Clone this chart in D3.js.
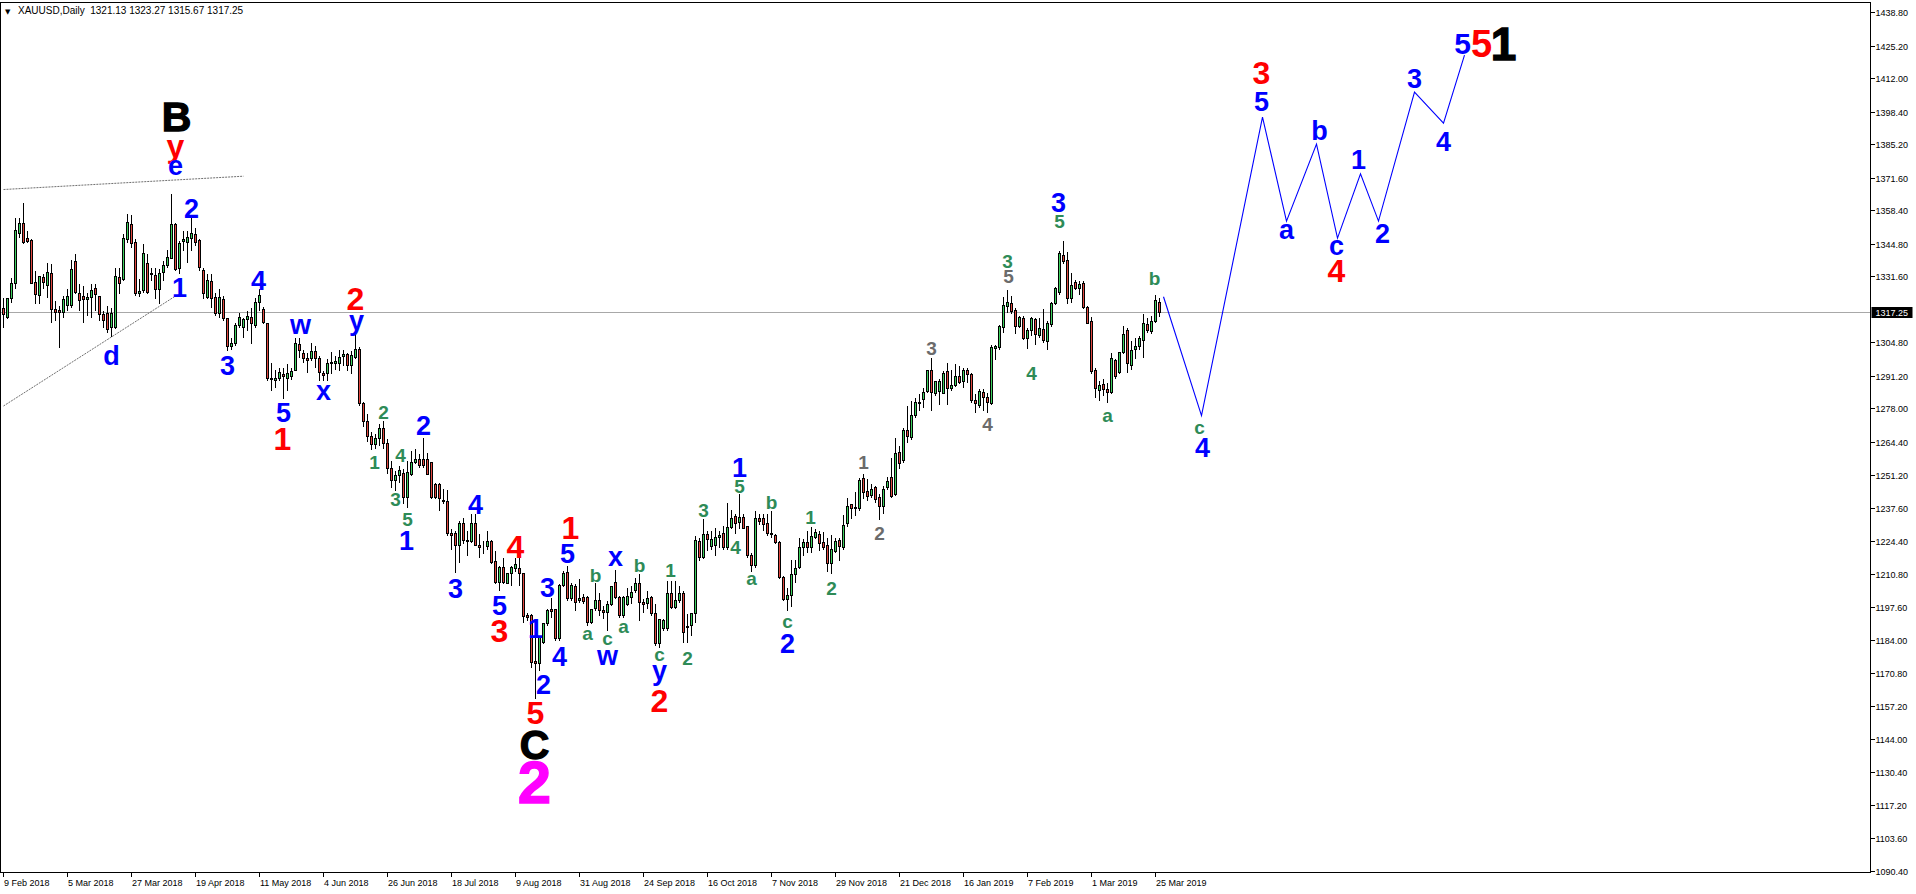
<!DOCTYPE html>
<html><head><meta charset="utf-8">
<script src="https://cdn.jsdelivr.net/npm/d3@7"></script>
<style>
html,body{margin:0;padding:0;background:#fff;overflow:hidden;}
svg{display:block;}
</style></head><body>
<svg id="c" width="1916" height="894"></svg>
<script>
// ---------------- DATA ----------------
const symbolTitle = "XAUUSD,Daily";
const lastOHLC = [1321.13, 1323.27, 1315.67, 1317.25];
const currentPrice = 1317.25;

// daily candles [open, high, low, close], starting 9 Feb 2018
const candles = [
[1318.6,1323.3,1311.2,1316.3],[1315.2,1323.3,1314.5,1322.7],[1322.7,1331.4,1321.3,1328.7],[1328.7,1355.8,1327.0,1350.4],
[1349.0,1355.8,1347.7,1353.1],[1353.1,1361.9,1345.0,1345.6],[1347.0,1350.4,1345.6,1346.0],[1346.3,1347.0,1328.7,1329.0],
[1329.4,1334.1,1320.6,1324.4],[1324.0,1332.0,1320.6,1331.7],[1331.2,1333.0,1327.0,1329.4],[1328.1,1337.5,1323.3,1333.5],
[1332.8,1336.9,1313.2,1318.2],[1318.2,1322.0,1314.0,1317.3],[1317.9,1320.0,1303.0,1317.0],[1317.3,1324.0,1315.0,1322.2],
[1320.0,1327.0,1318.0,1323.6],[1320.0,1338.5,1319.3,1334.4],[1337.8,1341.0,1324.7,1325.4],[1325.0,1328.7,1318.0,1322.0],
[1323.6,1328.0,1313.0,1322.4],[1322.4,1325.4,1316.0,1323.3],[1323.3,1328.7,1315.2,1326.0],[1326.7,1329.0,1318.0,1324.4],
[1323.6,1324.0,1313.9,1316.3],[1316.3,1318.0,1311.2,1313.9],[1316.8,1320.0,1309.1,1310.1],[1311.2,1319.3,1307.5,1316.6],
[1310.9,1335.5,1310.5,1331.7],[1331.2,1335.5,1324.7,1328.7],[1330.4,1349.0,1330.0,1347.0],[1346.8,1357.1,1345.6,1353.7],
[1353.0,1357.0,1343.6,1345.0],[1345.6,1347.0,1324.0,1324.7],[1324.7,1331.0,1323.5,1325.6],[1326.0,1345.0,1325.4,1340.9],
[1337.2,1341.0,1324.7,1325.4],[1333.0,1335.5,1330.0,1332.5],[1332.0,1335.5,1322.9,1326.3],[1326.3,1334.8,1320.6,1333.0],
[1333.5,1338.2,1330.0,1336.2],[1336.2,1342.5,1335.5,1339.3],[1339.1,1365.2,1338.9,1353.0],[1353.0,1353.7,1334.1,1334.4],
[1335.0,1346.3,1333.0,1345.0],[1346.0,1350.4,1342.3,1346.8],[1345.6,1350.4,1337.5,1347.7],[1347.0,1355.8,1342.3,1349.3],
[1348.6,1351.7,1344.3,1345.6],[1346.3,1347.0,1334.1,1335.5],[1334.1,1335.5,1322.7,1324.7],[1323.3,1332.8,1322.7,1330.0],
[1329.7,1332.8,1319.3,1322.7],[1323.3,1325.4,1315.9,1316.6],[1316.6,1326.7,1315.2,1323.3],[1322.4,1324.0,1313.9,1314.5],
[1314.5,1315.2,1301.7,1303.5],[1303.5,1307.1,1302.3,1304.7],[1304.5,1313.2,1303.8,1311.8],[1311.8,1317.3,1311.2,1315.2],
[1311.2,1315.2,1307.1,1314.1],[1314.1,1318.0,1309.8,1315.5],[1315.2,1319.3,1304.4,1312.5],[1311.8,1323.3,1311.2,1321.3],
[1321.0,1326.7,1318.0,1324.0],[1318.2,1319.6,1312.5,1312.9],[1312.8,1313.2,1289.5,1290.2],[1290.2,1297.0,1285.5,1289.8],
[1289.5,1294.2,1286.8,1290.5],[1290.2,1294.9,1289.5,1292.9],[1291.8,1294.9,1282.1,1291.1],[1290.5,1296.3,1285.5,1292.3],
[1291.0,1295.0,1290.0,1293.0],[1293.8,1307.1,1293.6,1304.4],[1304.0,1307.1,1299.0,1301.7],[1300.6,1302.3,1297.0,1298.3],
[1298.3,1301.0,1292.9,1297.7],[1298.3,1305.0,1297.6,1301.3],[1301.3,1303.8,1294.9,1298.3],[1298.6,1299.6,1289.5,1292.9],
[1292.4,1293.5,1289.5,1291.5],[1292.2,1298.3,1289.5,1296.3],[1296.3,1301.4,1292.2,1297.0],[1296.3,1299.5,1294.2,1297.3],
[1296.3,1302.3,1293.6,1299.0],[1299.3,1302.3,1295.6,1300.0],[1300.0,1301.0,1293.6,1295.6],[1295.6,1301.7,1292.2,1299.6],
[1299.0,1309.8,1298.3,1302.0],[1302.1,1303.3,1279.4,1280.1],[1280.1,1281.0,1271.0,1273.0],[1273.0,1276.0,1265.0,1267.0],
[1267.0,1269.0,1261.5,1263.5],[1263.5,1268.0,1262.0,1266.0],[1266.0,1272.0,1263.0,1270.0],[1270.0,1273.5,1262.0,1264.0],
[1264.0,1266.0,1252.0,1254.0],[1254.0,1257.0,1246.0,1249.0],[1249.0,1253.0,1245.0,1251.0],[1251.0,1255.0,1248.0,1253.0],
[1251.9,1253.7,1239.5,1242.2],[1242.2,1257.1,1238.1,1252.3],[1251.6,1261.1,1251.0,1256.4],[1256.4,1261.8,1255.7,1257.7],
[1257.5,1259.8,1254.4,1255.0],[1257.5,1266.5,1254.4,1255.0],[1257.3,1260.4,1251.6,1251.6],[1256.1,1256.4,1241.5,1242.2],
[1247.3,1248.3,1241.5,1242.2],[1247.2,1248.3,1236.8,1241.5],[1240.8,1245.6,1239.5,1240.6],[1240.4,1245.2,1226.7,1227.6],
[1227.3,1229.4,1221.2,1226.7],[1227.3,1228.7,1211.8,1222.6],[1222.6,1232.7,1215.9,1231.6],[1231.6,1234.1,1223.3,1224.6],
[1224.6,1228.7,1218.5,1224.4],[1224.4,1235.4,1224.0,1231.7],[1231.6,1235.4,1222.6,1222.6],[1222.6,1227.3,1217.9,1222.0],
[1221.9,1224.6,1219.2,1221.8],[1222.2,1228.7,1221.2,1224.4],[1224.4,1225.0,1215.2,1215.9],[1216.1,1220.6,1207.1,1207.7],
[1207.7,1214.5,1204.4,1213.8],[1213.8,1217.9,1207.1,1207.7],[1207.3,1211.8,1207.1,1211.4],[1211.1,1214.5,1206.4,1213.8],
[1213.4,1217.9,1212.2,1214.9],[1213.2,1217.9,1206.4,1211.4],[1211.1,1211.8,1191.5,1193.8],[1194.2,1195.5,1192.2,1193.5],
[1194.2,1194.9,1173.3,1175.3],[1175.6,1186.8,1160.5,1174.6],[1174.6,1186.1,1171.9,1185.2],[1183.4,1191.5,1182.7,1190.8],
[1190.8,1196.9,1190.2,1196.2],[1196.5,1201.6,1193.5,1195.9],[1196.5,1196.9,1184.1,1184.8],[1185.1,1207.1,1184.1,1206.4],
[1206.4,1212.4,1206.0,1211.1],[1211.8,1214.5,1200.3,1201.0],[1201.0,1207.7,1200.3,1206.4],[1206.0,1207.1,1196.2,1199.6],
[1200.3,1209.1,1199.6,1201.2],[1201.4,1203.0,1198.9,1200.0],[1201.6,1202.3,1190.2,1191.5],[1191.5,1196.9,1190.8,1196.5],
[1196.9,1207.7,1196.2,1200.3],[1200.3,1203.7,1194.2,1196.2],[1196.2,1198.3,1192.9,1195.5],[1195.5,1200.3,1188.1,1198.7],
[1198.7,1206.4,1198.3,1206.0],[1207.7,1212.7,1201.0,1201.6],[1201.6,1202.3,1193.5,1194.2],[1194.2,1202.3,1193.5,1201.6],
[1198.7,1205.7,1198.3,1201.9],[1201.6,1206.4,1198.9,1203.7],[1204.4,1209.8,1203.7,1207.1],[1207.3,1211.1,1192.2,1199.6],
[1199.6,1201.0,1195.5,1198.7],[1199.0,1204.4,1196.9,1201.0],[1201.4,1202.3,1194.2,1194.9],[1194.9,1198.9,1182.1,1183.0],
[1183.0,1192.5,1181.4,1192.5],[1188.8,1192.9,1188.1,1192.2],[1188.8,1208.6,1188.1,1203.0],[1203.0,1208.4,1196.9,1197.6],
[1197.6,1208.4,1196.9,1200.3],[1200.3,1206.4,1199.6,1203.0],[1203.0,1204.4,1183.4,1187.5],[1189.8,1194.9,1183.4,1189.2],
[1190.2,1195.5,1186.1,1194.9],[1194.9,1226.7,1191.5,1224.6],[1224.4,1225.7,1216.5,1217.9],[1217.9,1233.4,1217.2,1227.1],
[1227.1,1228.7,1220.6,1225.0],[1222.2,1228.7,1221.2,1225.0],[1222.6,1230.0,1218.5,1225.7],[1225.7,1228.7,1221.9,1226.7],
[1227.3,1230.7,1221.2,1221.9],[1221.9,1240.2,1221.2,1230.0],[1230.0,1237.4,1229.4,1233.4],[1234.3,1235.4,1227.3,1231.7],
[1232.1,1243.6,1229.4,1233.8],[1233.8,1235.4,1229.4,1229.4],[1230.3,1230.7,1217.9,1218.5],[1218.5,1219.9,1212.2,1214.5],
[1214.5,1236.8,1213.8,1233.4],[1233.4,1235.4,1231.0,1232.5],[1233.4,1235.4,1228.7,1231.3],[1231.7,1235.4,1226.7,1227.3],
[1227.3,1236.8,1226.0,1227.0],[1226.7,1227.3,1223.3,1224.0],[1224.0,1224.6,1209.1,1209.8],[1209.8,1210.5,1200.3,1200.6],
[1200.6,1205.7,1196.2,1202.3],[1202.3,1216.8,1197.9,1210.8],[1210.8,1216.8,1207.7,1213.1],[1213.8,1226.0,1213.1,1221.9],
[1222.0,1225.3,1218.5,1224.0],[1224.0,1228.7,1219.9,1221.9],[1221.9,1230.3,1219.9,1226.2],[1226.0,1229.6,1225.3,1227.7],
[1226.9,1228.9,1220.6,1223.3],[1223.7,1228.3,1221.2,1221.9],[1222.5,1226.0,1212.2,1215.2],[1215.2,1226.9,1211.4,1221.2],
[1220.3,1226.0,1219.9,1224.4],[1224.6,1226.0,1216.5,1222.3],[1222.0,1235.2,1221.2,1230.6],[1231.4,1242.2,1230.3,1238.5],
[1239.2,1239.5,1233.4,1237.5],[1237.5,1244.6,1234.8,1237.9],[1237.5,1250.3,1236.8,1249.0],[1249.6,1251.7,1241.5,1244.2],
[1244.6,1249.6,1240.8,1242.5],[1242.9,1247.6,1242.2,1245.3],[1246.0,1246.9,1240.2,1241.1],[1241.9,1243.6,1233.0,1238.4],
[1238.4,1246.9,1235.7,1245.2],[1246.0,1250.6,1245.2,1248.7],[1250.0,1258.2,1242.2,1242.6],[1243.3,1266.5,1242.9,1259.8],
[1260.4,1263.2,1253.7,1255.7],[1257.1,1270.6,1256.4,1269.2],[1269.2,1279.4,1264.5,1266.8],[1266.5,1281.4,1265.8,1275.3],
[1275.3,1282.7,1274.6,1280.7],[1280.7,1284.1,1277.3,1280.3],[1282.0,1286.8,1278.7,1284.7],[1285.2,1294.2,1284.8,1293.8],
[1293.8,1299.0,1277.3,1284.8],[1284.4,1289.5,1283.4,1289.1],[1285.2,1290.2,1280.0,1289.1],[1284.4,1293.6,1284.1,1292.5],
[1293.3,1297.0,1280.0,1286.1],[1286.5,1294.2,1285.4,1287.7],[1287.5,1296.3,1287.0,1291.1],[1291.3,1295.6,1288.4,1288.8],
[1289.1,1294.9,1286.8,1293.6],[1293.8,1294.9,1288.8,1291.8],[1291.9,1292.9,1280.7,1281.4],[1281.6,1284.1,1276.7,1280.3],
[1279.4,1286.1,1278.7,1285.0],[1284.5,1286.1,1277.3,1282.5],[1282.7,1284.8,1276.7,1280.7],[1280.3,1304.1,1279.8,1303.0],
[1302.7,1304.1,1298.0,1303.4],[1303.0,1312.2,1302.3,1311.5],[1311.1,1323.6,1309.1,1319.9],[1319.5,1326.3,1317.2,1321.3],
[1320.9,1324.0,1316.8,1317.5],[1317.9,1319.2,1308.7,1311.5],[1311.5,1316.1,1311.1,1315.2],[1314.8,1315.9,1306.0,1306.4],
[1306.4,1311.1,1302.7,1310.0],[1309.8,1315.4,1307.7,1314.5],[1314.1,1315.2,1304.0,1308.0],[1307.7,1315.2,1307.1,1310.7],
[1310.2,1318.6,1305.0,1305.7],[1305.3,1313.8,1302.3,1312.5],[1312.1,1321.7,1311.4,1320.9],[1320.9,1327.6,1320.3,1326.7],
[1325.3,1342.2,1324.6,1340.9],[1340.2,1346.5,1336.8,1337.9],[1338.2,1341.9,1320.9,1323.0],[1323.0,1333.4,1321.3,1327.9],
[1329.1,1330.7,1326.3,1326.7],[1326.7,1330.3,1324.6,1328.4],[1328.7,1330.3,1318.6,1319.2],[1319.2,1319.9,1312.5,1312.7],
[1313.4,1315.4,1292.2,1293.3],[1293.5,1294.9,1282.7,1286.5],[1285.6,1289.5,1281.4,1287.5],[1287.9,1290.2,1283.4,1285.7],
[1285.7,1288.8,1280.7,1284.5],[1284.8,1301.0,1284.4,1298.3],[1297.6,1298.3,1290.2,1291.0],[1292.9,1301.0,1292.2,1300.7],
[1300.7,1311.8,1300.3,1308.4],[1310.0,1311.1,1292.9,1296.3],[1295.6,1305.7,1294.2,1301.9],[1302.0,1307.1,1298.3,1303.4],
[1303.4,1307.7,1302.3,1306.7],[1305.7,1316.8,1299.0,1312.5],[1312.2,1315.2,1309.1,1309.8],[1309.4,1315.9,1308.7,1313.4],
[1313.5,1324.6,1313.1,1321.9],[1321.13,1323.27,1315.67,1317.25]
];

// time axis labels, one every 16 bars
const dateLabels = ["9 Feb 2018","5 Mar 2018","27 Mar 2018","19 Apr 2018","11 May 2018","4 Jun 2018","26 Jun 2018",
  "18 Jul 2018","9 Aug 2018","31 Aug 2018","24 Sep 2018","16 Oct 2018","7 Nov 2018","29 Nov 2018","21 Dec 2018",
  "16 Jan 2019","7 Feb 2019","1 Mar 2019","25 Mar 2019"];
const dateStep = 16;

// price axis labels
const priceTicks = [1438.80,1425.20,1412.00,1398.40,1385.20,1371.60,1358.40,1344.80,1331.60,1304.80,1291.20,1278.00,
  1264.40,1251.20,1237.60,1224.40,1210.80,1197.60,1184.00,1170.80,1157.20,1144.00,1130.40,1117.20,1103.60,1090.40];

// wave labels: [text, kind, bar, price]
const waveLabels = [
['B','black',43.25,1396.6],['y','red',43,1381.9],['e','blue',43,1375.5],['2','blue',47,1359.3],['1','blue',44,1327.2],
['d','blue',27,1299.6],['4','blue',63.75,1330.1],['3','blue',56,1295.6],['w','blue',74.25,1311.0],['2','red',88,1322.6],
['y','blue',88.25,1311.6],['x','blue',80,1284.2],['5','blue',70,1276.5],['1','red',69.75,1265.6],['2','green',95,1276.5],
['1','green',92.75,1256.3],['4','green',99.25,1259.1],['2','blue',105,1271.3],['3','green',98,1241.3],['5','green',101,1233.1],
['1','blue',100.75,1224.6],['4','blue',118,1239.2],['3','blue',113,1205.2],['4','red',128,1221.8],['5','blue',124,1198.3],
['3','red',124,1188.1],['1','red',141.75,1229.5],['5','blue',141,1219.4],['3','blue',136,1205.6],['1','blue',133,1188.9],
['4','blue',139,1177.6],['2','blue',135,1166.2],['5','red',133,1154.5],['C','black',132.75,1141.9],['2','magenta',132.75,1126.5],
['b','green',148,1210.4],['x','blue',153,1216.9],['b','green',159,1214.5],['a','green',146,1186.1],['c','green',151,1184.1],
['a','green',155,1188.9],['w','blue',151,1176.8],['1','green',166.75,1212.5],['c','green',164,1177.6],['y','blue',164,1169.6],
['2','red',164,1159.7],['2','green',171,1176.8],['3','green',175,1236.8],['1','blue',184,1254.2],['5','green',184,1246.5],
['4','green',183,1221.8],['b','green',192,1240.0],['a','green',187,1208.4],['c','green',196,1191.0],['2','blue',196,1182.9],
['1','green',201.75,1233.9],['2','green',207,1205.2],['1','gray',215,1256.3],['2','gray',219,1227.5],['3','gray',232,1302.5],
['4','gray',246,1271.7],['3','green',251,1337.8],['5','gray',251.25,1331.7],['4','green',257,1292.3],['3','blue',263.75,1361.7],
['5','green',264,1354.0],['a','green',276,1274.5],['b','green',287.75,1330.9],['c','green',299,1269.6],['4','blue',299.75,1262.3],
['3','red',314.5,1414.4],['5','blue',314.5,1402.6],['a','blue',320.75,1349.5],['b','blue',329,1390.9],['c','blue',333.25,1343.0],
['4','red',333.25,1334.1],['1','blue',338.75,1379.1],['2','blue',344.75,1349.1],['3','blue',352.75,1412.0],['4','blue',360,1386.4],
['5','blueTop',364.75,1426.2],['5','redTop',369.5,1426.2],['1','blackTop',375,1426.2]
];

// projected path [bar, price]
const projection = [[290,1323.3],[299.5,1275.1],[314.75,1396.2],[320.75,1354.0],[328.25,1385.2],[333.5,1347.1],
  [339.25,1373.2],[343.75,1354.0],[352.75,1406.3],[360,1393.7],[365.25,1421.3]];

// trend lines [[bar, price],[bar, price]]
const trendLines = [[[0,1366.8],[60,1372.2]], [[0,1279.0],[43,1323.6]]];

// ---------------- STYLE / LAYOUT ----------------
const labelStyle = {
  blue:{size:27,color:"#0000ff"}, red:{size:32,color:"#ff0000"}, green:{size:19,color:"#2e8b57"},
  gray:{size:19,color:"#6b6b6b"}, black:{size:41,color:"#000000",stroke:1.3}, magenta:{size:60,color:"#ff00ff",stroke:1.3},
  blueTop:{size:30,color:"#0000ff"}, redTop:{size:38,color:"#ff0000"}, blackTop:{size:46,color:"#000000",stroke:1.3}
};
const bullFill = "#3dd05e", bearFill = "#e0473f";
const axisFont = "Liberation Sans, Arial, sans-serif";

const svg = d3.select("#c");
const frame = {left:0.5, top:2.5, right:1870.5, bottom:872.5};
const x = d3.scaleLinear().domain([0, 467]).range([3.5, 3.5 + 4 * 467]);
const y = d3.scaleLinear().domain([1090.4, 1438.8]).range([871, 12]);
const py = v => Math.round(y(v)) + 0.5;

svg.append("clipPath").attr("id","plot").append("rect")
  .attr("x",1).attr("y",3).attr("width",frame.right-1).attr("height",frame.bottom-3);
const g = svg.append("g").attr("clip-path","url(#plot)");

// current price line
g.append("line").attr("x1",0).attr("x2",frame.right).attr("y1",py(currentPrice)).attr("y2",py(currentPrice))
  .attr("stroke","#a8a8a8").attr("stroke-width",1).attr("shape-rendering","crispEdges");

// trend lines
g.selectAll("line.trend").data(trendLines).join("line").attr("class","trend")
  .attr("x1",d=>x(d[0][0])).attr("y1",d=>y(d[0][1])).attr("x2",d=>x(d[1][0])).attr("y2",d=>y(d[1][1]))
  .attr("stroke","#6f6f6f").attr("stroke-width",1).attr("stroke-dasharray","2,1");

// candles
const cg = g.append("g").attr("shape-rendering","crispEdges");
const cs = cg.selectAll("g").data(candles).join("g");
cs.append("line")
  .attr("x1",(d,i)=>x(i)).attr("x2",(d,i)=>x(i))
  .attr("y1",d=>py(d[1])).attr("y2",d=>py(d[2])+0.001)
  .attr("stroke","#000").attr("stroke-width",1);
cs.append("rect")
  .attr("x",(d,i)=>x(i)-1).attr("width",2)
  .attr("y",d=>py(Math.max(d[0],d[3])))
  .attr("height",d=>Math.max(0, py(Math.min(d[0],d[3])) - py(Math.max(d[0],d[3]))))
  .attr("fill",d=>d[3]>=d[0]?bullFill:bearFill)
  .attr("stroke","#000").attr("stroke-width",1);

// projection
g.append("path").datum(projection)
  .attr("d", d3.line().x(d=>x(d[0])).y(d=>y(d[1])))
  .attr("fill","none").attr("stroke","#0000ff").attr("stroke-width",1.1);

// wave labels
function baseShift(t){
  if ("acewx".includes(t)) return 0.26;
  if (t === "y") return 0.15;
  return 0.358;
}
g.selectAll("text.wave").data(waveLabels).join("text").attr("class","wave")
  .attr("x",d=>x(d[2])).attr("y",d=>y(d[3]) + baseShift(d[0]) * labelStyle[d[1]].size)
  .attr("text-anchor","middle")
  .attr("font-family","Liberation Sans, Arial, sans-serif").attr("font-weight","bold")
  .attr("font-size",d=>labelStyle[d[1]].size)
  .attr("fill",d=>labelStyle[d[1]].color)
  .attr("stroke",d=>labelStyle[d[1]].stroke?labelStyle[d[1]].color:"none")
  .attr("stroke-width",d=>labelStyle[d[1]].stroke||0)
  .text(d=>d[0]);

// frame
svg.append("path")
  .attr("d",`M${frame.left},${frame.bottom}V${frame.top}H${frame.right}V${frame.bottom}H${frame.left}`)
  .attr("fill","none").attr("stroke","#000").attr("stroke-width",1).attr("shape-rendering","crispEdges");

// price axis
const ya = svg.append("g");
ya.selectAll("line").data(priceTicks).join("line")
  .attr("x1",frame.right).attr("x2",frame.right+4).attr("y1",d=>py(d)).attr("y2",d=>py(d))
  .attr("stroke","#000").attr("shape-rendering","crispEdges");
ya.selectAll("text").data(priceTicks).join("text")
  .attr("x",frame.right+5).attr("y",d=>Math.round(y(d))+3.5)
  .attr("font-family",axisFont).attr("font-size",9).attr("fill","#000")
  .text(d=>d.toFixed(2));

// current price tag
const cpY = Math.round(y(currentPrice));
svg.append("rect").attr("x",frame.right+1).attr("y",cpY-5).attr("width",41).attr("height",11).attr("fill","#000");
svg.append("text").attr("x",frame.right+5).attr("y",cpY+3.5)
  .attr("font-family",axisFont).attr("font-size",9).attr("fill","#fff").text(currentPrice.toFixed(2));

// time axis
const xa = svg.append("g");
xa.selectAll("line").data(dateLabels).join("line")
  .attr("x1",(d,i)=>Math.round(x(i*dateStep))-0.5).attr("x2",(d,i)=>Math.round(x(i*dateStep))-0.5)
  .attr("y1",frame.bottom).attr("y2",frame.bottom+4)
  .attr("stroke","#000").attr("shape-rendering","crispEdges");
xa.selectAll("text").data(dateLabels).join("text")
  .attr("x",(d,i)=>x(i*dateStep)+0.5).attr("y",886)
  .attr("font-family",axisFont).attr("font-size",9).attr("fill","#000")
  .text(d=>d);

// header
svg.append("text").attr("x",5).attr("y",13.5).attr("font-family","DejaVu Sans, sans-serif").attr("font-size",7).text("▼");
svg.append("text").attr("x",18).attr("y",14).attr("font-family",axisFont).attr("font-size",10).attr("fill","#000")
  .style("white-space","pre")
  .text(symbolTitle + "  " + lastOHLC.map(v=>v.toFixed(2)).join(" "));
</script>
</body></html>
